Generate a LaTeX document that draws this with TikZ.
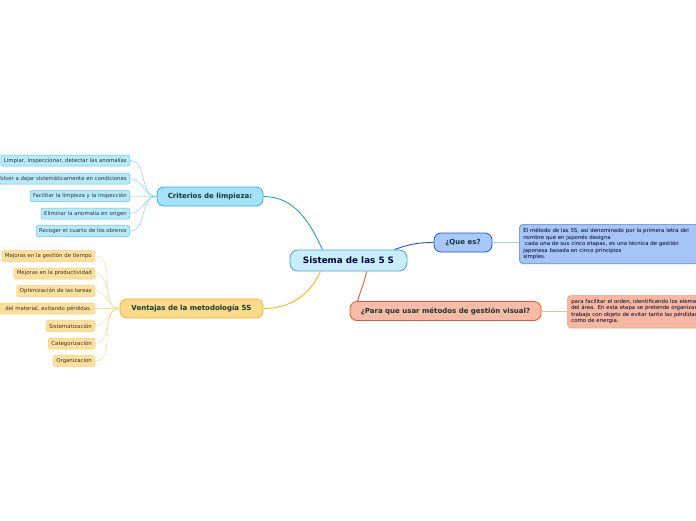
\documentclass[tikz,border=0pt]{standalone}
\usepackage{fontspec}
\setmainfont{DejaVu Sans}
\usetikzlibrary{positioning}

\definecolor{hubfill}{HTML}{C8EEFC}
\definecolor{hubline}{HTML}{4FA6DC}
\definecolor{critfill}{HTML}{A5E2F9}
\definecolor{critline}{HTML}{2BB0E8}
\definecolor{critedge}{HTML}{1C9FDD}
\definecolor{cleaffill}{HTML}{B6E9FB}
\definecolor{cleafline}{HTML}{5CC6F2}
\definecolor{cleafedge}{HTML}{80D4F5}
\definecolor{ventfill}{HTML}{FDDA8A}
\definecolor{ventline}{HTML}{F2B52A}
\definecolor{ventedge}{HTML}{FBB514}
\definecolor{vleaffill}{HTML}{FEE09C}
\definecolor{vleafline}{HTML}{FBCF6B}
\definecolor{vleafedge}{HTML}{FDDB95}
\definecolor{quefill}{HTML}{A9C7F8}
\definecolor{queline}{HTML}{1C5BD0}
\definecolor{queedge}{HTML}{1B57C8}
\definecolor{qnotefill}{HTML}{A6C5F6}
\definecolor{qnoteline}{HTML}{4D88E4}
\definecolor{qnoteedge}{HTML}{A9C9F8}
\definecolor{parafill}{HTML}{F8BBA6}
\definecolor{paraline}{HTML}{E8552C}
\definecolor{paraedge}{HTML}{EA5A2C}
\definecolor{pnotefill}{HTML}{F7B8A2}
\definecolor{pnoteline}{HTML}{ECA890}
\definecolor{pnoteedge}{HTML}{F4B9A5}
\definecolor{darktext}{HTML}{123838}
\definecolor{leaftext}{HTML}{35352A}

\begin{document}
\begin{tikzpicture}[x=1pt,y=-1pt,
  hub/.style={draw=hubline, fill=hubfill, line width=0.9pt, rounded corners=8pt,
    minimum height=21pt, font=\fontsize{8.8}{10}\selectfont\bfseries, text=black!80!blue},
  topic/.style={line width=0.8pt, rounded corners=7pt, minimum height=19pt,
    font=\fontsize{7}{8}\selectfont\bfseries, text=darktext},
  leaf/.style={line width=0.5pt, rounded corners=2pt, minimum height=11pt,
    inner xsep=3pt, inner ysep=1pt, font=\fontsize{5.4}{6}\selectfont, text=leaftext},
  cleaf/.style={leaf, draw=cleafline, fill=cleaffill, anchor=east},
  vleaf/.style={leaf, draw=vleafline, fill=vleaffill, anchor=east},
  note/.style={line width=0.6pt, rounded corners=4pt, anchor=north west, align=left,
    text width=200pt, inner sep=4pt, font=\fontsize{5.4}{6.5}\selectfont, text=black!85!blue}]

\fill[white] (0,0) rectangle (696,520);
\useasboundingbox (0,0) rectangle (696,520);

\node (sis) [hub, minimum width=117pt] at (348.5,260.5) {Sistema de las 5 S};
\node (crit) [topic, draw=critline, fill=critfill, minimum width=106pt] at (210,196.5) {Criterios de limpieza:};
\node (vent) [topic, draw=ventline, fill=ventfill, minimum width=143pt] at (191.5,308.5) {Ventajas de la metodología 5S};
\node (que) [topic, draw=queline, fill=quefill, minimum width=58pt] at (463,242.5) {¿Que es?};
\node (para) [topic, draw=paraline, fill=parafill, minimum width=191pt] at (445.5,311) {¿Para que usar métodos de gestión visual?};

\node (c1) [cleaf] at (130,160.5) {Limpiar, inspeccionar, detectar las anomalías};
\node (c2) [cleaf] at (130,178.5) {Volver a dejar sistemáticamente en condiciones};
\node (c3) [cleaf] at (130,196) {Facilitar la limpieza y la inspección};
\node (c4) [cleaf] at (130,213.5) {Eliminar la anomalía en origen};
\node (c5) [cleaf] at (130,231) {Recoger el cuarto de los obreros};

\node (v1) [vleaf] at (95,256) {Mejoras en la gestión de tiempo};
\node (v2) [vleaf] at (95,273.5) {Mejoras en la productividad};
\node (v3) [vleaf] at (95,291) {Optimización de las tareas};
\node (v4) [vleaf] at (95,308.5) {\hspace*{10pt}del material, evitando pérdidas.};
\node (v5) [vleaf] at (95,326) {Sistematización};
\node (v6) [vleaf] at (95,343.5) {Categorización};
\node (v7) [vleaf] at (95,361) {Organizacion};

\node (qd) [note, draw=qnoteline, fill=qnotefill] at (519,224) {El método de las 5S, así denominado por la primera letra del\\
nombre que en japonés designa\\
\ cada una de sus cinco etapas, es una técnica de gestión\\
japonesa basada en cinco principios\\
simples.};
\node (pd) [note, draw=pnoteline, fill=pnotefill] at (567,295) {para facilitar el orden, identificando los elementos\\
del área. En esta etapa se pretende organizar el\\
trabajo con objeto de evitar tanto las pérdidas de tiempo\\
como de energía.};

\draw[critedge, line width=0.9pt] ([xshift=-26pt]sis.north) to[out=115,in=0] (crit.east);
\draw[ventedge, line width=0.9pt] ([xshift=-28pt]sis.south) to[out=-115,in=0] (vent.east);
\draw[queedge, line width=0.9pt] ([xshift=46pt]sis.north) to[out=20,in=180] (que.west);
\draw[paraedge, line width=0.9pt] ([xshift=18pt]sis.south) to[out=-100,in=75] ([xshift=8pt]para.north west);

\foreach \n in {c1,c2,c3,c4,c5}
  \draw[cleafedge, line width=0.5pt] (crit.west) to[out=180,in=0] (\n.east);
\foreach \n in {v1,v2,v3,v4,v5,v6,v7}
  \draw[vleafedge, line width=0.5pt] (vent.west) to[out=180,in=0] (\n.east);

\draw[qnoteedge, line width=0.8pt] (que.east) -- (que.east -| qd.west);
\draw[pnoteedge, line width=0.6pt] (para.east) -- (para.east -| pd.west);
\end{tikzpicture}
\end{document}
